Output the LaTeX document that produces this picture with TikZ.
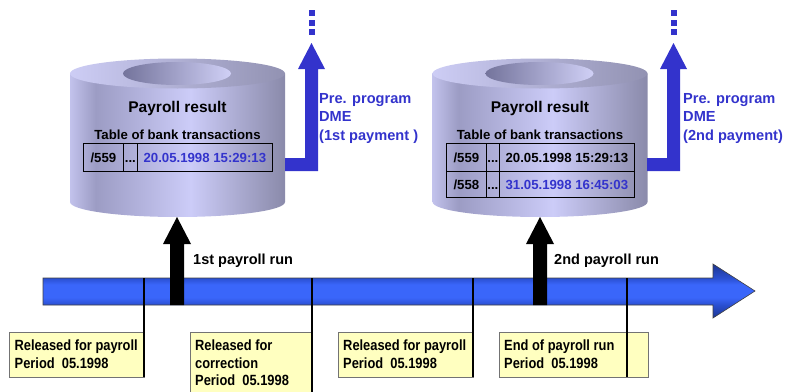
\documentclass[tikz,border=0pt]{standalone}
\usepackage{fontspec}
\setmainfont{Liberation Sans}
\usepackage{graphicx}
\definecolor{dme}{HTML}{3333CC}
\definecolor{yel}{HTML}{FFFFC0}
\definecolor{cylL}{HTML}{C2C2EC}
\definecolor{cylD}{HTML}{9C9CC4}
\definecolor{cylB}{HTML}{CCCCF8}
\definecolor{cylR}{HTML}{8A8AAA}
\definecolor{topL}{HTML}{CDCDF5}
\definecolor{topR}{HTML}{9292B2}
\definecolor{holeL}{HTML}{74749C}
\definecolor{holeR}{HTML}{D0D0F6}
\definecolor{tlD}{HTML}{1C3590}
\definecolor{tlE}{HTML}{2A4FD0}
\definecolor{tlM}{HTML}{3A66FA}
\pgfdeclarehorizontalshading{cylside}{100bp}{color(0bp)=(cylL); color(25bp)=(cylL); color(31bp)=(cylD); color(53bp)=(cylB); color(75bp)=(cylR); color(100bp)=(cylR)}
\pgfdeclarehorizontalshading{cyltop}{100bp}{color(0bp)=(topL); color(25bp)=(topL); color(75bp)=(topR); color(100bp)=(topR)}
\pgfdeclarehorizontalshading{cylhole}{100bp}{color(0bp)=(holeL); color(25bp)=(holeL); color(75bp)=(holeR); color(100bp)=(holeR)}
\pgfdeclareverticalshading{tlsh}{100bp}{color(0bp)=(tlD); color(25bp)=(tlD); color(37bp)=(tlE); color(44bp)=(tlM); color(56bp)=(tlM); color(62bp)=(tlE); color(75bp)=(tlD); color(100bp)=(tlD)}
\newcommand\cnd[1]{\scalebox{0.87}[1]{#1}}
\begin{document}
\begin{tikzpicture}[x=1pt,y=-1pt,
  big/.style={font=\fontsize{15.5}{18}\selectfont\bfseries},
  tfont/.style={font=\fontsize{13.2}{16}\selectfont\bfseries},
  dmetext/.style={font=\fontsize{14.6}{18.5}\selectfont\bfseries, text=dme, anchor=base west, inner sep=0pt},
  cell/.style={draw=black, line width=0.8pt, inner sep=0pt, anchor=north west, minimum height=28pt, text height=9.5pt, text depth=0pt, tfont},
  yelbox/.style={fill=yel, draw=black!55, line width=0.6pt},
  boxtext/.style={font=\fontsize{14.8}{17.5}\selectfont\bfseries, anchor=base west, inner sep=0pt},
  runlabel/.style={font=\fontsize{14.5}{17}\selectfont\bfseries, anchor=base west, inner sep=0pt},
  tick/.style={line width=1.2pt, black},
  dot/.style={fill=dme}
]
\useasboundingbox (0,0) rectangle (789,391);
\clip (0,0) rectangle (789,391);

% ---------- Cylinder 1 ----------
\shade[shading=cylside] (70,73.5) -- (70,202) arc[start angle=180,end angle=360,x radius=107.5pt,y radius=15pt] -- (285,73.5) -- cycle;
\shade[shading=cyltop] (177.5,73.5) ellipse[x radius=107.5pt, y radius=15pt];
\shade[shading=cylhole] (177,73.5) ellipse[x radius=54pt, y radius=11.5pt];
\coordinate (cyl1bot) at (177,217);
\node[big, anchor=base] (pr1) at (177.5,112) {Payroll result};
\node[tfont, anchor=base] (tb1) at (177.5,139) {Table of bank transactions};
\node[cell, minimum width=40pt] (c11) at (83,143) {/559};
\node[cell, minimum width=14pt] (c12) at (123,143) {...};
\node[cell, minimum width=135pt, text=dme] (c13) at (137,143) {20.05.1998 15:29:13};

% blue arrow 1
\fill[dme] (285,158) -- (305,158) -- (305,69) -- (298,69) -- (311.5,43) -- (325,69) -- (318,69) -- (318,171) -- (285,171) -- cycle;
\fill[dot] (309,10) rectangle (315,16);
\fill[dot] (309,19.5) rectangle (315,25.5);
\fill[dot] (309,29) rectangle (315,35);
\node[dmetext] (dme1) at (319,103) {\vtop{\hbox{Pre. program}\hbox{DME}\hbox{(1st payment )}}};

% ---------- Cylinder 2 ----------
\begin{scope}[xshift=362.5pt]
\shade[shading=cylside] (70,73.5) -- (70,202) arc[start angle=180,end angle=360,x radius=107.5pt,y radius=15pt] -- (285,73.5) -- cycle;
\shade[shading=cyltop] (177.5,73.5) ellipse[x radius=107.5pt, y radius=15pt];
\shade[shading=cylhole] (177,73.5) ellipse[x radius=54pt, y radius=11.5pt];
\end{scope}
\coordinate (cyl2bot) at (540,217);
\node[big, anchor=base] (pr2) at (540,112) {Payroll result};
\node[tfont, anchor=base] (tb2) at (540,139) {Table of bank transactions};
\node[cell, minimum width=40pt] (c21) at (446,143) {/559};
\node[cell, minimum width=13pt] (c22) at (486,143) {...};
\node[cell, minimum width=135pt] (c23) at (499,143) {20.05.1998 15:29:13};
\node[cell, minimum width=40pt, minimum height=26pt] (c31) at (446,171) {/558};
\node[cell, minimum width=13pt, minimum height=26pt] (c32) at (486,171) {...};
\node[cell, minimum width=135pt, minimum height=26pt, text=dme] (c33) at (499,171) {31.05.1998 16:45:03};

% blue arrow 2
\fill[dme] (647,158) -- (667,158) -- (667,69) -- (660,69) -- (673.5,43) -- (687,69) -- (680,69) -- (680,171) -- (647,171) -- cycle;
\fill[dot] (671,10) rectangle (677,16);
\fill[dot] (671,19.5) rectangle (677,25.5);
\fill[dot] (671,29) rectangle (677,35);
\node[dmetext] (dme2) at (683,103) {\vtop{\hbox{Pre. program}\hbox{DME}\hbox{(2nd payment)}}};

% ---------- Timeline ----------
\shadedraw[shading=tlsh, draw=black!75, line width=0.6pt] (43,278) -- (713,278) -- (713,264) -- (755,291) -- (713,318) -- (713,305) -- (43,305) -- cycle;

% black run arrows
\coordinate (run1) at (177,305);
\coordinate (run2) at (540,305);
\fill[black] (run1) ++(-7,0) -- ++(0,-61) -- ++(-7,0) -- (cyl1bot) -- ++(14,27) -- ++(-7,0) -- ++(0,61) -- cycle;
\fill[black] (run2) ++(-7,0) -- ++(0,-61) -- ++(-7,0) -- (cyl2bot) -- ++(14,27) -- ++(-7,0) -- ++(0,61) -- cycle;
\node[runlabel] (l1) at (193,264) {1st payroll run};
\node[runlabel] (l2) at (554,264) {2nd payroll run};

% ---------- Yellow boxes ----------
\path[yelbox] (9,332) rectangle (144,377);
\path[yelbox] (190,332) rectangle (312,400);
\path[yelbox] (338,332) rectangle (473,377);
\path[yelbox] (499,332) rectangle (648,377);
\node[boxtext] (bt1) at (14.5,350.5) {\vtop{\hbox{\cnd{Released for payroll}}\hbox{\cnd{Period\ \ 05.1998}}}};
\node[boxtext] (bt2) at (195,350.5) {\vtop{\hbox{\cnd{Released for}}\hbox{\cnd{correction}}\hbox{\cnd{Period\ \ 05.1998}}}};
\node[boxtext] (bt3) at (343,350.5) {\vtop{\hbox{\cnd{Released for payroll}}\hbox{\cnd{Period\ \ 05.1998}}}};
\node[boxtext] (bt4) at (504,350.5) {\vtop{\hbox{\cnd{End of payroll run}}\hbox{\cnd{Period\ \ 05.1998}}}};

% ticks
\coordinate (tk1) at (144,278);
\coordinate (tk2) at (312,278);
\coordinate (tk3) at (473,278);
\coordinate (tk4) at (627,278);
\draw[tick] (tk1) -- (144,377);
\draw[tick] (tk2) -- (312,395);
\draw[tick] (tk3) -- (473,377);
\draw[tick] (tk4) -- (627,377);
\end{tikzpicture}
\end{document}
